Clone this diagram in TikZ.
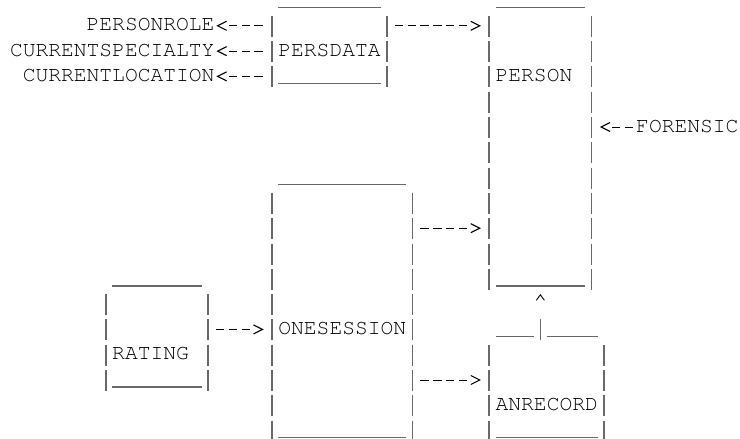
\documentclass[tikz,border=0pt]{standalone}
\usepackage[T1,TU]{fontenc}
\usetikzlibrary{arrows.meta}
\definecolor{glyphgray}{RGB}{105,105,105}
\newcommand\cour{\fontencoding{T1}\fontfamily{pcr}\fontseries{m}\fontshape{n}\fontsize{21.3}{25}\selectfont}
\tikzset{
  lbl/.style={font=\cour, anchor=base west, inner sep=0pt, outer sep=0pt, text=black},
  boxn/.style={rectangle, draw=none, inner sep=0pt, outer sep=0pt, anchor=north west},
  uline/.style={draw=glyphgray, line width=1.6pt},
  pipes/.style={draw=glyphgray, line width=1.6pt, dash pattern=on 21pt off 4.3pt},
  conn/.style={draw=black, line width=1pt, -{Straight Barb[length=9pt,width=9pt,line width=1.1pt]}},
  hyA/.style={dash pattern=on 8.3pt off 4.48pt on 8.3pt off 40pt},
  hyB/.style={dash pattern=on 8.3pt off 4.48pt on 8.3pt off 4.48pt on 8.3pt off 40pt},
  hyC/.style={dash pattern=on 8.3pt off 4.48pt on 8.3pt off 4.48pt on 8.3pt off 4.48pt on 8.3pt off 40pt},
  hyD/.style={dash pattern=on 8.3pt off 4.48pt on 8.3pt off 4.48pt on 8.3pt off 4.48pt on 8.3pt off 4.48pt on 8.3pt off 4.48pt on 8.3pt off 40pt},
  rgt/.style={shorten <=7.9pt, shorten >=8.27pt},
  vconn/.style={draw=glyphgray, line width=1.6pt, dash pattern=on 21pt off 40pt,
    -{Straight Barb[length=5.5pt,width=8pt,line width=0.9pt,color=black]}}
}
\newcommand\asciisides[1]{%
  \draw[pipes] ([yshift=-8.3pt]#1.north west) -- ([yshift=-4pt]#1.south west);
  \draw[pipes] ([yshift=-8.3pt]#1.north east) -- ([yshift=-4pt]#1.south east);
  \draw[uline] ([xshift=6.39pt]#1.south west) -- ([xshift=-6.39pt]#1.south east);
}
\newcommand\asciibox[1]{%
  \asciisides{#1}%
  \draw[uline] ([xshift=6.39pt]#1.north west) -- ([xshift=-6.39pt]#1.north east);
}
\begin{document}
\begin{tikzpicture}[x=1pt, y=-1pt]
\path[fill=white, use as bounding box] (0,0) rectangle (740,439);

% boxes
\node[boxn, minimum width=115.02pt, minimum height=75.9pt] (persdata) at (271.99,7.5) {};
\node[boxn, minimum width=102.24pt, minimum height=278.3pt] (person) at (489.25,7.5) {};
\node[boxn, minimum width=140.58pt, minimum height=253pt] (onesession) at (271.99,184.6) {};
\node[boxn, minimum width=102.24pt, minimum height=101.2pt] (rating) at (105.85,285.8) {};
\node[boxn, minimum width=115.02pt, minimum height=101.2pt] (anrecord) at (489.25,336.4) {};

\asciibox{persdata}
\asciibox{person}
\asciibox{onesession}
\asciibox{rating}
\asciisides{anrecord}
\draw[uline] (495.64,336.4) -- (533.98,336.4);
\draw[uline] (546.76,336.4) -- (597.88,336.4);

% labels
\node[lbl] (personrole) at (86.68,30.8) {PERSONROLE};
\node[lbl] (currentspecialty) at (10,56.1) {CURRENTSPECIALTY};
\node[lbl] (currentlocation) at (22.78,81.4) {CURRENTLOCATION};
\node[lbl] (persdatalbl) at (278.38,56.1) {PERSDATA};
\node[lbl] (personlbl) at (495.64,81.4) {PERSON};
\node[lbl] (forensic) at (636.22,132) {FORENSIC};
\node[lbl] (onesessionlbl) at (278.38,334.4) {ONESESSION};
\node[lbl] (ratinglbl) at (112.24,359.7) {RATING};
\node[lbl] (anrecordlbl) at (495.64,410.3) {ANRECORD};

% connectors
\draw[conn, hyB, shorten <=9.4pt, shorten >=1.9pt] (persdata.west |- 0,25.8) -- (personrole.east |- 0,25.8);
\draw[conn, hyB, shorten <=9.4pt, shorten >=1.9pt] (persdata.west |- 0,51.1) -- (currentspecialty.east |- 0,51.1);
\draw[conn, hyB, shorten <=9.4pt, shorten >=1.9pt] (persdata.west |- 0,76.4) -- (currentlocation.east |- 0,76.4);
\draw[conn, hyD, rgt] (persdata.east |- 0,25.8) -- (person.west |- 0,25.8);
\draw[conn, hyA, shorten <=3pt, shorten >=8.3pt] (forensic.west |- 0,127) -- (person.east |- 0,127);
\draw[conn, hyC, rgt] (onesession.east |- 0,228.2) -- (person.west |- 0,228.2);
\draw[conn, hyB, rgt] (rating.east |- 0,329.4) -- (onesession.west |- 0,329.4);
\draw[conn, hyC, rgt] (onesession.east |- 0,380) -- (anrecord.west |- 0,380);
\draw[vconn, shorten <=-4pt, shorten >=8.2pt] (anrecord.north -| 540.37,0) -- (person.south -| 540.37,0);
\end{tikzpicture}
\end{document}
